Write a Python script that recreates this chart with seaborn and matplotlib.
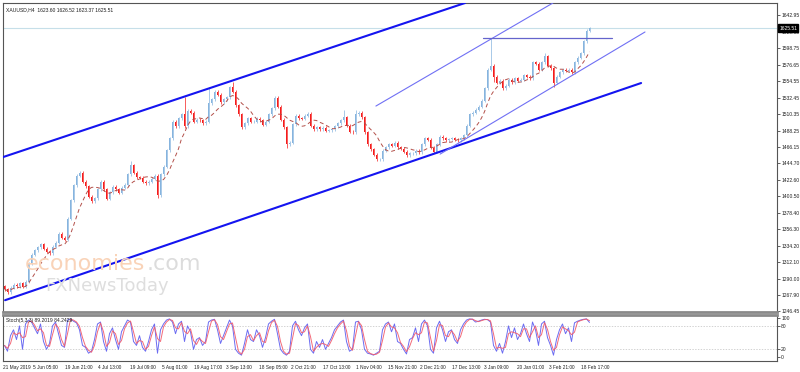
import numpy as np
import pandas as pd
import matplotlib
matplotlib.use("Agg")
import matplotlib.pyplot as plt
import seaborn as sns

# price path, one candle per ~3 px (about one trading day)
first_open = 1280.0
closes = [
    1276, 1272, 1278, 1282, 1280, 1284, 1279, 1286, 1310, 1322,
    1328, 1332, 1336, 1330, 1326, 1324, 1333, 1338, 1350, 1345,
    1342, 1370, 1395, 1415, 1428, 1432, 1420, 1414, 1400, 1394,
    1398, 1410, 1420, 1410, 1397, 1406, 1413, 1410, 1405, 1412,
    1416, 1430, 1442, 1432, 1426, 1425, 1420, 1418, 1420, 1424,
    1428, 1402, 1430, 1440, 1462, 1478, 1500, 1494, 1505, 1510,
    1494, 1515, 1512, 1500, 1503, 1502, 1498, 1500, 1525, 1530,
    1540, 1536, 1526, 1530, 1533, 1546, 1540, 1522, 1510, 1493,
    1498, 1505, 1500, 1500, 1504, 1502, 1496, 1500, 1510, 1518,
    1532, 1520, 1503, 1493, 1470, 1472, 1497, 1508, 1505, 1504,
    1508, 1511, 1495, 1490, 1493, 1490, 1492, 1488, 1489, 1490,
    1494, 1498, 1502, 1506, 1495, 1487, 1486, 1510, 1512, 1506,
    1486, 1470, 1463, 1456, 1450, 1450, 1461, 1466, 1470, 1468,
    1472, 1466, 1464, 1460, 1455, 1458, 1458, 1461, 1459, 1470,
    1478, 1476, 1465, 1460, 1470, 1480, 1478, 1475, 1477, 1478,
    1476, 1475, 1478, 1482, 1495, 1510, 1512, 1516, 1520, 1528,
    1545, 1570, 1575, 1560, 1552, 1555, 1545, 1548, 1556, 1553,
    1558, 1555, 1556, 1562, 1560, 1558, 1580, 1578, 1570, 1580,
    1588, 1575, 1572, 1552, 1560, 1566, 1570, 1568, 1570, 1566,
    1580, 1586, 1592, 1608, 1622, 1625.51,
]
# wick extremes that stick out
high_spikes = {42: 1448, 60: 1533, 68: 1546, 76: 1553, 90: 1535, 113: 1516,
               117: 1516, 162: 1612, 180: 1592}
low_spikes = {51: 1398, 94: 1465, 124: 1447, 163: 1553, 183: 1547}

stoch_k = [
    30, 15, 55, 70, 45, 80, 20, 85, 95, 90,
    75, 60, 85, 40, 20, 35, 80, 90, 60, 30,
    25, 95, 98, 92, 88, 70, 30, 25, 10, 15,
    45, 85, 90, 40, 15, 60, 75, 45, 20, 65,
    80, 95, 90, 40, 30, 55, 25, 15, 40, 70,
    85, 10, 70, 85, 95, 98, 90, 60, 85, 92,
    40, 80, 65, 20, 45, 50, 30, 40, 90, 95,
    97, 70, 35, 55, 75, 95, 80, 20, 10, 5,
    35, 70, 45, 40, 70, 55, 25, 50, 85, 92,
    97, 60, 20, 10, 5, 15, 80, 92, 70, 55,
    75, 85, 20, 10, 40, 25, 45, 20, 35, 50,
    70, 80, 90, 95, 40, 15, 20, 90, 92, 70,
    20, 10, 8, 5, 10, 15, 70, 85, 90, 65,
    85, 40, 35, 20, 8, 45, 50, 75, 40, 85,
    95, 80, 20, 10, 75, 92, 70, 40, 65, 70,
    45, 35, 70, 85, 95, 98, 97, 90, 92, 95,
    97, 96, 90, 30, 15, 35, 10, 40, 80, 50,
    75, 45, 60, 85, 60, 40, 90, 70, 30, 85,
    92, 50, 30, 5, 45, 70, 85, 60, 75, 40,
    88, 92, 95, 97, 98, 89,
]

date_labels = ["21 May 2019", "5 Jun 05:00", "19 Jun 21:00", "4 Jul 13:00",
               "19 Jul 09:00", "5 Aug 01:00", "19 Aug 17:00", "3 Sep 13:00",
               "18 Sep 05:00", "2 Oct 21:00", "17 Oct 13:00", "1 Nov 04:00",
               "15 Nov 21:00", "2 Dec 21:00", "17 Dec 13:00", "3 Jan 09:00",
               "20 Jan 01:00", "3 Feb 21:00", "18 Feb 17:00"]
price_ticks = [1642.95, 1620.85, 1598.75, 1576.65, 1554.55, 1532.45, 1510.35,
               1488.25, 1466.15, 1444.70, 1422.60, 1400.50, 1378.40, 1356.30,
               1334.20, 1312.10, 1290.00, 1267.90, 1246.45]

# trend lines drawn on the chart: (candle index, price) pairs
upper_thick = ([-0.5, 153.5], [1452.8, 1659.0])
lower_thick = ([0.2, 212.2], [1261.3, 1551.9])
upper_thin = ([123.8, 182.8], [1521.1, 1659.0])
lower_thin = ([145.2, 213.5], [1456.8, 1620.2])
resistance = ([159.5, 202.5], [1612.2, 1612.2])
last_price = 1625.51

df = pd.DataFrame({"close": closes})
df["idx"] = np.arange(len(df))
df["open"] = [first_open] + closes[:-1]
df["high"] = df[["open", "close"]].max(axis=1) + 2.0
df["low"] = df[["open", "close"]].min(axis=1) - 2.0
for k, v in high_spikes.items():
    df.loc[k, "high"] = v
for k, v in low_spikes.items():
    df.loc[k, "low"] = v
df["ma"] = df["close"].rolling(8, min_periods=1).mean()
df["k"] = stoch_k
df["d"] = df["k"].rolling(2, min_periods=1).mean()

sns.set_style("white")
plt.rcParams["font.family"] = ["Liberation Sans", "DejaVu Sans"]

fig = plt.figure(figsize=(8, 3.72), dpi=100)
ax = fig.add_axes([3 / 800, 1 - 312 / 372, 774 / 800, 309 / 372])
ax2 = fig.add_axes([3 / 800, 1 - 361 / 372, 774 / 800, 46 / 372], sharex=ax)

UP = "#86b4de"
DN = "#f41c1c"
cols = np.where(df["close"] >= df["open"], UP, DN)

ax.axhline(last_price, color="#c6dfe9", lw=0.8, zorder=0)
ax.vlines(df["idx"], df["low"], df["high"], colors=cols, lw=0.5, zorder=2)
ax.bar(df["idx"], df["close"] - df["open"], bottom=df["open"], width=0.55,
       color=cols, linewidth=0, zorder=2)
sns.lineplot(data=df, x="idx", y="ma", ax=ax, color="#b3504a", lw=0.7,
             linestyle=(0, (4, 3)), zorder=3)

ax.plot(*upper_thick, color="#1414f0", lw=1.5, zorder=4)
ax.plot(*lower_thick, color="#1414f0", lw=1.5, zorder=4)
ax.plot(*upper_thin, color="#7070f4", lw=0.8, zorder=4)
ax.plot(*lower_thin, color="#7070f4", lw=0.8, zorder=4)
ax.plot(*resistance, color="#6464cc", lw=0.9, zorder=4)

# watermark
fig.text(25 / 800, 1 - 270 / 372, "economies", fontsize=16, color="#f9d3b8",
         family="DejaVu Sans", va="baseline", zorder=1)
fig.text(147 / 800, 1 - 270 / 372, ".com", fontsize=16, color="#dcdcdc",
         family="DejaVu Sans", va="baseline", zorder=1)
fig.text(45 / 800, 1 - 291 / 372, "FXNewsToday", fontsize=13, color="#dedede",
         family="DejaVu Sans", va="baseline", zorder=1)

ax.set_xlim(-0.5, 257.5)
ax.set_ylim(1245.5, 1659)
ax.set_xlabel("")
ax.set_ylabel("")
ax.yaxis.tick_right()
ax.set_yticks(price_ticks)
ax.set_yticklabels([f"{v:.2f}" for v in price_ticks])
ax.tick_params(axis="y", direction="out", length=2, width=0.5, pad=1,
               labelsize=3.6, colors="#202020")
ax.tick_params(axis="x", bottom=False, labelbottom=False)
ax.text(0.004, 0.985, "XAUUSD,H4  1623.60 1626.52 1623.37 1625.51",
        transform=ax.transAxes, fontsize=3.6, va="top", ha="left", color="#202020")
ax.annotate(f"{last_price:.2f}", xy=(1.003, last_price),
            xycoords=ax.get_yaxis_transform(), fontsize=3.6, color="white",
            va="center", ha="left", annotation_clip=False, zorder=10,
            bbox=dict(boxstyle="square,pad=0.25", fc="black", ec="black"))

# stochastic pane
ax2.axhline(80, color="#c0c0c0", lw=0.5, ls=(0, (2, 2)))
ax2.axhline(20, color="#c0c0c0", lw=0.5, ls=(0, (2, 2)))
sns.lineplot(data=df, x="idx", y="k", ax=ax2, color="#5c5cf0", lw=0.7, alpha=0.9)
sns.lineplot(data=df, x="idx", y="d", ax=ax2, color="#f25a6a", lw=0.7, alpha=0.9)
ax2.set_ylim(-10, 108)
ax2.set_xlabel("")
ax2.set_ylabel("")
ax2.yaxis.tick_right()
ax2.set_yticks([0, 20, 80, 100])
ax2.set_yticklabels(["0", "20", "80", "100"])
ax2.tick_params(axis="y", direction="out", length=2, width=0.5, pad=1,
                labelsize=3.6, colors="#202020")
tick_pos = -1.25 + 10.75 * np.arange(len(date_labels))
tick_pos[0] = -0.5
ax2.set_xticks(tick_pos)
ax2.set_xticklabels(date_labels)
for lab in ax2.get_xticklabels():
    lab.set_horizontalalignment("left")
ax2.tick_params(axis="x", direction="out", length=2, width=0.5, pad=1,
                labelsize=3.4, colors="#202020")
ax2.text(0.004, 0.93, "Stoch(5,3,3) 89.2019 84.2429", transform=ax2.transAxes,
         fontsize=3.6, va="top", ha="left", color="#202020")

for a in (ax, ax2):
    for s in a.spines.values():
        s.set_color("#555555")
        s.set_linewidth(0.8)
ax.spines["bottom"].set_color("#8a8a8a")
ax.spines["bottom"].set_linewidth(2.0)
ax2.spines["top"].set_color("#8a8a8a")
ax2.spines["top"].set_linewidth(2.0)

fig.savefig("out.png", dpi=100)
